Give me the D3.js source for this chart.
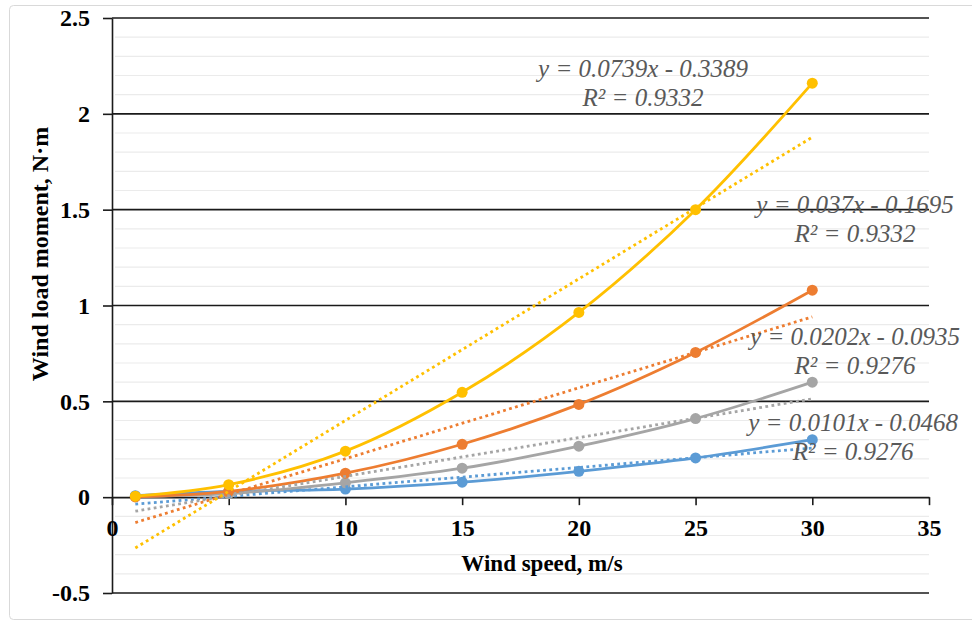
<!DOCTYPE html>
<html>
  <head>
    <meta charset="utf-8">
    <style>
      body { margin: 0; background: #fff; }
      svg { display: block; font-family: "Liberation Serif", "Times New Roman", serif; }
    </style>
  </head>
  <body>
    <script src="https://d3js.org/d3.v7.min.js"></script>
    <script>
      // wind speed, m/s
      const speeds = [1, 5, 10, 15, 20, 25, 30];
      // wind load moment, N·m
      const blueValues = [0.008, 0.03, 0.042, 0.078, 0.135, 0.205, 0.30];
      const grayValues = [0.003, 0.018, 0.075, 0.151, 0.266, 0.41, 0.60];
      const orangeValues = [0.001, 0.03, 0.125, 0.276, 0.484, 0.755, 1.08];
      const yellowValues = [0.005, 0.065, 0.24, 0.547, 0.964, 1.50, 2.16];

      // linear trendlines shown on the chart
      const trendSlopes = [0.0101, 0.0202, 0.037, 0.0739];
      const trendIntercepts = [-0.0468, -0.0935, -0.1695, -0.3389];
      const trendEquations = ['y = 0.0101x - 0.0468', 'y = 0.0202x - 0.0935', 'y = 0.037x - 0.1695', 'y = 0.0739x - 0.3389'];
      const trendR2 = ['R² = 0.9276', 'R² = 0.9276', 'R² = 0.9332', 'R² = 0.9332'];

      const xTicks = [0, 5, 10, 15, 20, 25, 30, 35];
      const yTicks = [-0.5, 0, 0.5, 1, 1.5, 2, 2.5];

      const series = [
        { name: 'blue', values: blueValues, color: '#5b9bd5' },
        { name: 'gray', values: grayValues, color: '#a5a5a5' },
        { name: 'orange', values: orangeValues, color: '#ed7d31' },
        { name: 'yellow', values: yellowValues, color: '#ffc000' }
      ];
      series.forEach((s, i) => {
        s.slope = trendSlopes[i];
        s.intercept = trendIntercepts[i];
        s.eq = trendEquations[i];
        s.r2 = trendR2[i];
      });

      // label anchor (centre of the equation line), in data units
      const labelPos = [
        { x: 31.75, y: 0.39 },
        { x: 31.83, y: 0.84 },
        { x: 31.83, y: 1.526 },
        { x: 22.75, y: 2.24 }
      ];

      const width = 972, height = 622;
      const svg = d3.select('body').append('svg')
        .attr('width', width)
        .attr('height', height);

      svg.append('rect')
        .attr('x', 9.5).attr('y', 5.5)
        .attr('width', 990).attr('height', 614)
        .attr('rx', 4)
        .attr('fill', '#fff')
        .attr('stroke', '#d9d9d9');

      const x = d3.scaleLinear().domain([0, 35]).range([112, 929]);
      const y = d3.scaleLinear().domain([-0.5, 2.5]).range([593, 18]);

      // minor gridlines every 0.1
      const minor = d3.range(-5, 26).map(d => d / 10).filter(d => Math.abs(d * 2 - Math.round(d * 2)) > 1e-6);
      svg.append('g')
        .selectAll('line')
        .data(minor)
        .join('line')
        .attr('x1', x(0) + 3).attr('x2', x(35))
        .attr('y1', d => y(d)).attr('y2', d => y(d))
        .attr('stroke', '#ebebeb')
        .attr('stroke-width', 1.2);

      // major gridlines
      svg.append('g')
        .selectAll('line')
        .data(yTicks.filter(d => d !== 0))
        .join('line')
        .attr('x1', x(0)).attr('x2', x(35))
        .attr('y1', d => y(d)).attr('y2', d => y(d))
        .attr('stroke', '#1a1a1a')
        .attr('stroke-width', 1.6);

      // y axis
      const yAxis = svg.append('g')
        .attr('transform', `translate(${x(0)},0)`)
        .call(d3.axisLeft(y).tickValues(yTicks).tickFormat(d => String(d)).tickSize(9).tickPadding(13).tickSizeOuter(0));
      yAxis.selectAll('path, line').attr('stroke', '#1a1a1a').attr('stroke-width', 1.6);
      yAxis.selectAll('text')
        .attr('font-family', '"Liberation Serif", serif')
        .attr('font-weight', 'bold')
        .attr('font-size', 24)
        .attr('fill', '#000');

      // x axis at y = 0
      const xAxis = svg.append('g')
        .attr('transform', `translate(0,${y(0)})`)
        .call(d3.axisBottom(x).tickValues(xTicks).tickSize(8).tickPadding(14).tickSizeOuter(0));
      xAxis.selectAll('path, line').attr('stroke', '#1a1a1a').attr('stroke-width', 1.6);
      xAxis.selectAll('text')
        .attr('font-family', '"Liberation Serif", serif')
        .attr('font-weight', 'bold')
        .attr('font-size', 24)
        .attr('fill', '#000');

      const line = d3.line()
        .x((d, i) => x(speeds[i]))
        .y(d => y(d))
        .curve(d3.curveCatmullRom.alpha(0.5));

      const plot = svg.append('g');

      series.forEach(s => {
        plot.append('path')
          .attr('d', line(s.values))
          .attr('fill', 'none')
          .attr('stroke', s.color)
          .attr('stroke-width', 2.8);
        plot.append('g')
          .selectAll('circle')
          .data(s.values)
          .join('circle')
          .attr('cx', (d, i) => x(speeds[i]))
          .attr('cy', d => y(d))
          .attr('r', 5.5)
          .attr('fill', s.color);
      });

      // dotted linear trendlines
      series.forEach(s => {
        const x0 = speeds[0], x1 = speeds[speeds.length - 1];
        plot.append('line')
          .attr('x1', x(x0)).attr('y1', y(s.slope * x0 + s.intercept))
          .attr('x2', x(x1)).attr('y2', y(s.slope * x1 + s.intercept))
          .attr('stroke', s.color)
          .attr('stroke-width', 2.8)
          .attr('stroke-dasharray', '2.8,3.4');
      });

      // trendline equations
      series.forEach((s, i) => {
        const p = labelPos[i];
        const t = svg.append('text')
          .attr('x', x(p.x))
          .attr('y', y(p.y))
          .attr('text-anchor', 'middle')
          .attr('font-family', '"Liberation Serif", serif')
          .attr('font-style', 'italic')
          .attr('font-size', 25)
          .attr('fill', '#595959');
        t.append('tspan').attr('x', x(p.x)).attr('dy', '0.35em').text(s.eq);
        t.append('tspan').attr('x', x(p.x)).attr('dy', 29).text(s.r2);
      });

      // axis titles
      svg.append('text')
        .attr('x', 542).attr('y', 563)
        .attr('dy', '0.35em')
        .attr('text-anchor', 'middle')
        .attr('font-weight', 'bold')
        .attr('font-size', 23)
        .text('Wind speed, m/s');

      svg.append('text')
        .attr('transform', 'translate(40,254) rotate(-90)')
        .attr('dy', '0.35em')
        .attr('text-anchor', 'middle')
        .attr('font-weight', 'bold')
        .attr('font-size', 24)
        .text('Wind load moment, N·m');
    </script>
  </body>
</html>
